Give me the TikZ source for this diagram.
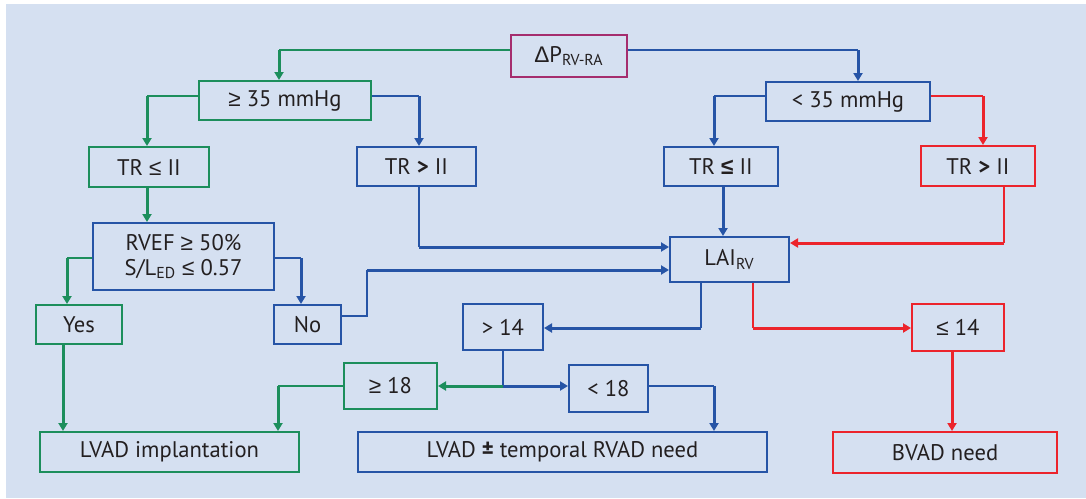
\documentclass[tikz,border=0pt]{standalone}
\usepackage{fontspec}
\setmainfont{PT Sans}
\newfontfamily\symf{Liberation Sans}
\usetikzlibrary{arrows.meta}
\definecolor{cvert}{RGB}{28,142,92}
\definecolor{cbleu}{RGB}{38,84,166}
\definecolor{crouge}{RGB}{236,36,44}
\definecolor{cviolet}{RGB}{165,45,110}
\definecolor{cfond}{RGB}{213,224,241}
\definecolor{ctexte}{RGB}{35,31,32}
\newcommand{\sge}{{\symf ≥}}
\newcommand{\sle}{{\symf ≤}}

\begin{document}
\begin{tikzpicture}[x=0.5pt, y=-0.5pt, >={Triangle[length=4pt,width=4.5pt]},
  boite/.style={draw, line width=1pt, inner sep=0pt, text=ctexte, align=center,
    font=\fontsize{11.3}{12.5}\selectfont},
  taille/.style 2 args={minimum width=#1*0.5pt, minimum height=#2*0.5pt},
  bv/.style={boite, draw=cvert}, bb/.style={boite, draw=cbleu}, br/.style={boite, draw=crouge},
  fin/.style={line width=0.7pt}, gros/.style={line width=1.5pt, ->}]
\useasboundingbox (0,0) rectangle (1086,498);
\fill[cfond] (6,4) rectangle (1086,498);
\node[boite, draw=cviolet, taille={116}{42}] (dp) at (569,56) {{\symf Δ}P\textsubscript{RV-RA}};
\node[bv, taille={172}{39}] (ge35) at (285,100.5) {\sge\ 35 mmHg};
\node[bb, taille={164}{39}] (lt35) at (848,101.5) {< 35 mmHg};
\node[bv, taille={120}{40}] (trleA) at (149,167) {TR \sle\ II};
\node[bb, taille={119}{39}] (trgtA) at (416.5,166.5) {TR \textbf{>} II};
\node[bb, taille={114}{39}] (trleB) at (721,166.5) {TR {\symf\bfseries ≤} II};
\node[br, taille={114}{40}] (trgtB) at (978,166) {TR \textbf{>} II};
\node[bb, taille={181}{67}] (rvef) at (183.5,256.5) {RVEF \sge\ 50\%\\S/L\textsubscript{ED} \sle\ 0.57};
\node[bv, taille={86}{39}] (yes) at (79,324.5) {Yes};
\node[bb, taille={67}{39}] (no) at (307.5,324.5) {No};
\node[bb, taille={119}{45}] (lai) at (729.5,259.5) {LAI\textsubscript{RV}};
\node[bb, taille={80}{46}] (gt14) at (503,327) {> 14};
\node[br, taille={92}{47}] (le14) at (958,327.5) {\sle\ 14};
\node[bv, taille={93}{46}] (ge18) at (390.5,386) {\sge\ 18};
\node[bb, taille={79}{47}] (lt18) at (608.5,388.5) {< 18};
\node[bv, taille={259}{40}] (lvad) at (169.5,452) {LVAD implantation};
\node[bb, taille={409}{40}] (lvadr) at (562.5,452) {LVAD \textbf{±} temporal RVAD need};
\node[br, taille={224}{41}] (bvad) at (945,452.5) {BVAD need};
\coordinate (k1) at (279,50);  \coordinate (k2) at (858,50);
\coordinate (k3) at (147,96);  \coordinate (k4) at (419,96);
\coordinate (k5) at (714,96);  \coordinate (k6) at (983,96);
\coordinate (k7) at (67,258);  \coordinate (k8) at (301,258);
\coordinate (k9) at (367,316); \coordinate (k10) at (367,270);
\coordinate (k11) at (419,247); \coordinate (k12) at (1004,243);
\coordinate (k13) at (701,328); \coordinate (k14) at (753,328);
\coordinate (k15) at (503,386); \coordinate (k16) at (278,386);
\coordinate (k17) at (714,386);
\foreach \a/\k/\b/\c in {dp.west/k1/ge35.north/cvert, dp.east/k2/lt35.north/cbleu,
    ge35.west/k3/trleA.north/cvert, ge35.east/k4/trgtA.north/cbleu,
    lt35.west/k5/trleB.north/cbleu, lt35.east/k6/trgtB.north/crouge,
    rvef.west/k7/yes.north/cvert, rvef.east/k8/no.north/cbleu,
    ge18.west/k16/lvad.north/cvert, lt18.east/k17/lvadr.north/cbleu}
  {\draw[fin,\c] (\a |- \k) -- (\k); \draw[gros,\c] (\k) -- (\k |- \b);}
\foreach \a/\k/\b/\c in {trgtA.south/k11/lai.west/cbleu, trgtB.south/k12/lai.east/crouge,
    lai.south/k13/gt14.east/cbleu, lai.south/k14/le14.west/crouge}
  {\draw[fin,\c] (\a -| \k) -- (\k); \draw[gros,\c] (\k) -- (\k -| \b);}
\draw[fin,cbleu] (no.east |- k9) -- (k9) -- (k10);
\draw[gros,cbleu] (k10) -- (k10 -| lai.west);
\draw[fin,cbleu] (gt14.south -| k15) -- (k15);
\draw[gros,cvert] (k15) -- (k15 -| ge18.east);
\draw[gros,cbleu] (k15) -- (k15 -| lt18.west);
\draw[gros,cvert] (trleA.south -| k3) -- (k3 |- rvef.north);
\draw[gros,cbleu] ([xshift=1pt]trleB.south) -- ([xshift=1pt]trleB.south |- lai.north);
\draw[gros,cvert] ([xshift=-8pt]yes.south) -- ([xshift=-8pt]yes.south |- lvad.north);
\draw[gros,crouge] ([xshift=-3pt]le14.south) -- ([xshift=-3pt]le14.south |- bvad.north);
\end{tikzpicture}
\end{document}
